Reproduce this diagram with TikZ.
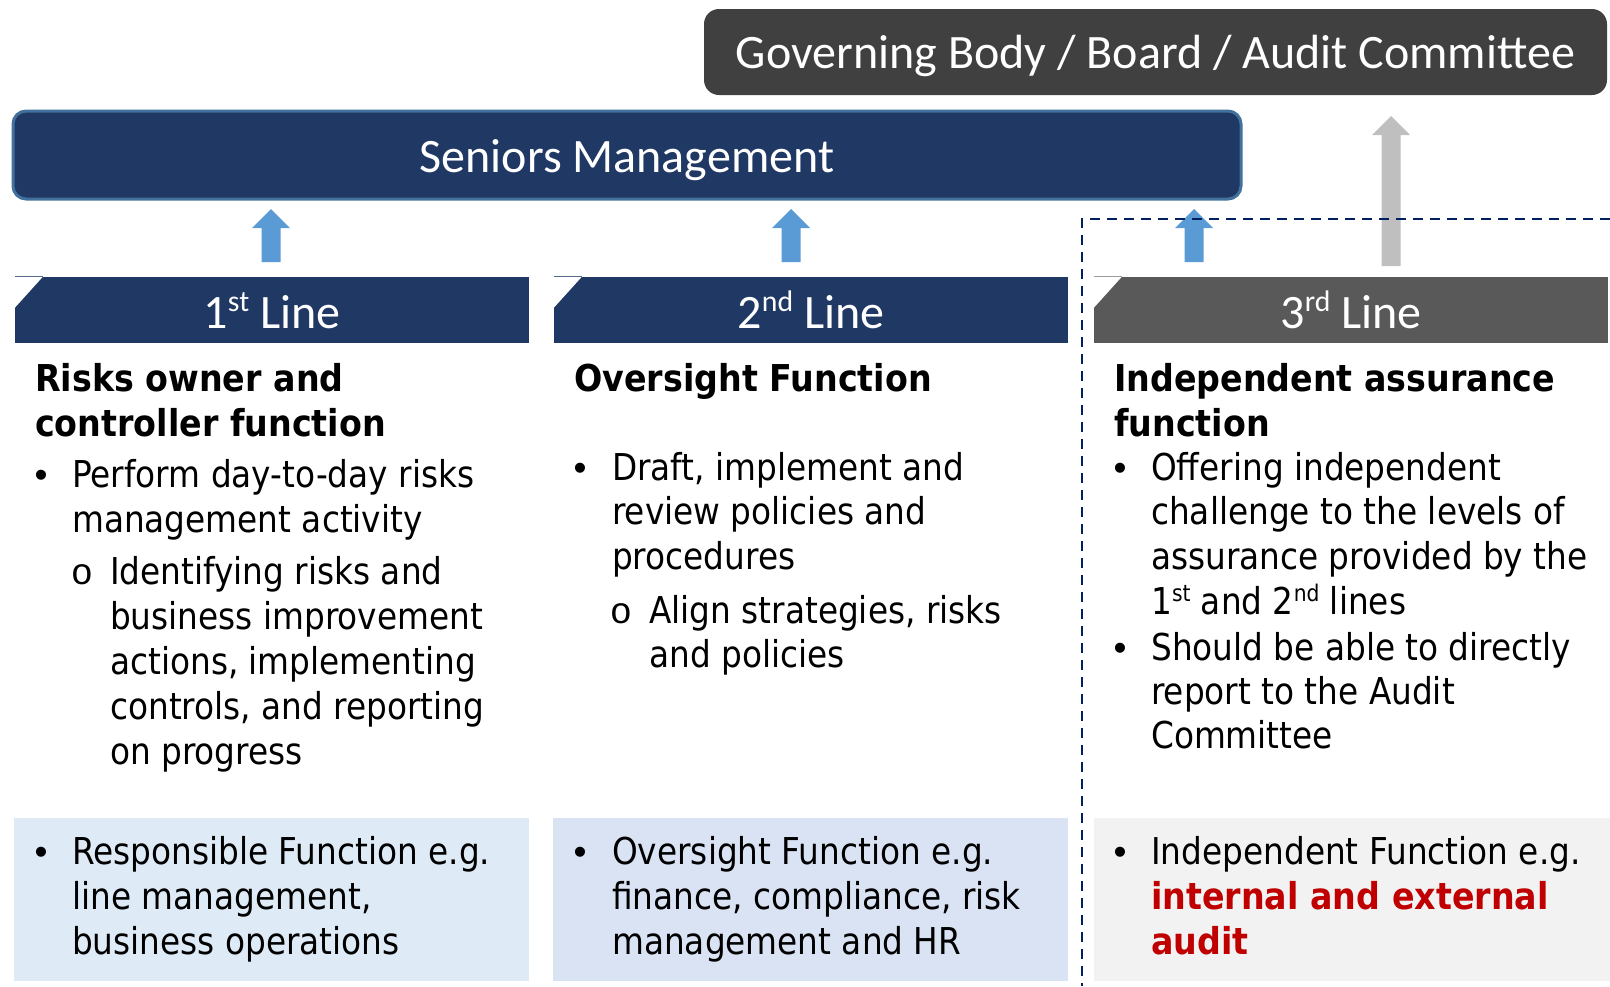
\documentclass[tikz,border=0pt]{standalone}
\usepackage{fontspec}
\setmainfont{DejaVu Sans}[FakeStretch=0.885, BoldFeatures={FakeStretch=0.9}]
\newfontfamily\hdfont{Carlito}
\newfontfamily\subfont{Liberation Mono}
\newfontfamily\bulfont{Liberation Sans}
\usetikzlibrary{calc}

\definecolor{navy}{HTML}{203864}
\definecolor{navyedge}{HTML}{41719C}
\definecolor{boardgray}{HTML}{404040}
\definecolor{thirdgray}{HTML}{595959}
\definecolor{arrowblue}{HTML}{5B9BD5}
\definecolor{arrowgray}{HTML}{BFBFBF}
\definecolor{boxone}{HTML}{DEEBF7}
\definecolor{boxtwo}{HTML}{DAE3F3}
\definecolor{boxthree}{HTML}{F2F2F2}
\definecolor{dashnavy}{HTML}{002060}
\definecolor{auditred}{HTML}{C00000}

\newcommand\bodysize{\fontsize{37}{45}\selectfont}
\newcommand\supx[1]{\raisebox{0.34em}{\scalebox{0.62}{#1}}}
% block arrow pointing up: #1 bottom coordinate, #2 tip coordinate, #3 colour
\newcommand\blockup[3]{%
  \fill[#3] let \p1=(#1), \p2=(#2) in
    (\x1-9.5pt,\y1) -- (\x1+9.5pt,\y1) -- (\x1+9.5pt,\y2-19pt) --
    (\x1+19pt,\y2-19pt) -- (\x2,\y2) -- (\x1-19pt,\y2-19pt) --
    (\x1-9.5pt,\y2-19pt) -- cycle;}

\begin{document}
\begin{tikzpicture}[x=1pt,y=-1pt,
  hdrbox/.style={inner sep=0, minimum width=514, minimum height=66,
    text=white, font=\hdfont\fontsize{48}{56}\selectfont,
    text height=36, text depth=0},
  fnbox/.style={inner sep=0, minimum width=515, minimum height=163},
  txt/.style={anchor=base west, inner sep=0, font=\bodysize},
  txtb/.style={anchor=base west, inner sep=0, font=\bodysize\bfseries},
  bul/.style={anchor=base, inner sep=0, font=\bulfont\bodysize},
  subbul/.style={anchor=base, inner sep=0, font=\subfont\bodysize},
  dashline/.style={draw=dashnavy, line width=2.5, dash pattern=on 10pt off 7pt}]
\useasboundingbox (0,0) rectangle (1610,986);

% governing body and senior management
\node[fill=boardgray, rounded corners=15, minimum width=903, minimum height=86,
  inner sep=0, text=white, font=\hdfont\fontsize{48}{56}\selectfont,
  text height=33, text depth=0] (gov) at (1155.5,52) {Governing Body / Board / Audit Committee};
\node[fill=navy, draw=navyedge, line width=3, rounded corners=13,
  minimum width=1228, minimum height=88, inner sep=0, text=white,
  font=\hdfont\fontsize{48}{56}\selectfont, text height=35, text depth=0]
  (sm) at (627,155) {Seniors Management};

% bottom function boxes
\node[fnbox, fill=boxone] (b1) at (271.5,899.5) {};
\node[fnbox, fill=boxtwo] (b2) at (810.5,899.5) {};
\node[fnbox, fill=boxthree, minimum width=516] (b3) at (1352,899.5) {};

% line headers with snipped corner
\node[hdrbox, fill=navy] (h1) at (272,310) {1\supx{st} Line};
\node[hdrbox, fill=navy] (h2) at (811,310) {2\supx{nd} Line};
\node[hdrbox, fill=thirdgray] (h3) at (1351,310) {3\supx{rd} Line};
\foreach \h/\c in {h1/navy!75, h2/navy!75, h3/thirdgray!60}{
  \fill[white] (\h.north west) -- ++(28,0) -- ++(-28,31) -- cycle;
  \draw[\c, line width=1] (\h.north west) -- ++(28,0);
}

% reporting arrows
\coordinate (a1b) at (271,262);  \coordinate (a1t) at (271,209);
\coordinate (a2b) at (791,262);  \coordinate (a2t) at (791,209);
\coordinate (a3b) at (1194,262); \coordinate (a3t) at (1194,209);
\coordinate (a4b) at (1391,266); \coordinate (a4t) at (1391,116);
\blockup{a1b}{a1t}{arrowblue}
\blockup{a2b}{a2t}{arrowblue}
\blockup{a3b}{a3t}{arrowblue}
\blockup{a4b}{a4t}{arrowgray}

% independence boundary of the third line
\coordinate (dA) at (1610,219);
\coordinate (dB) at (1082,219);
\coordinate (dC) at (1082,986);
\draw[dashline] (dA) -- (dB) -- (dC);

% first line
\node[txtb] (c1t1) at (35,391) {Risks owner and};
\node[txtb] (c1t2) at (35,436) {controller function};
\node[bul] (c1p0) at (41,487) {•};
\node[txt] (c1p1) at (72,487) {Perform day-to-day risks};
\node[txt] (c1p2) at (72,532) {management activity};
\node[subbul] (c1s0) at (82,584) {o};
\node[txt] (c1s1) at (110,584) {Identifying risks and};
\node[txt] (c1s2) at (110,629) {business improvement};
\node[txt] (c1s3) at (110,674) {actions, implementing};
\node[txt] (c1s4) at (110,719) {controls, and reporting};
\node[txt] (c1s5) at (110,764) {on progress};

% second line
\node[txtb] (c2t1) at (574,391) {Oversight Function};
\node[bul] (c2p0) at (580,480) {•};
\node[txt] (c2p1) at (612,480) {Draft, implement and};
\node[txt] (c2p2) at (612,524) {review policies and};
\node[txt] (c2p3) at (612,569) {procedures};
\node[subbul] (c2s0) at (621,623) {o};
\node[txt] (c2s1) at (649,623) {Align strategies, risks};
\node[txt] (c2s2) at (649,667) {and policies};

% third line
\node[txtb] (c3t1) at (1114,391) {Independent assurance};
\node[txtb] (c3t2) at (1114,436) {function};
\node[bul] (c3p0) at (1120,480) {•};
\node[txt] (c3p1) at (1151,480) {Offering independent};
\node[txt] (c3p2) at (1151,524) {challenge to the levels of};
\node[txt] (c3p3) at (1151,569) {assurance provided by the};
\node[txt] (c3p4) at (1151,614) {1\supx{st} and 2\supx{nd} lines};
\node[bul] (c3q0) at (1120,660) {•};
\node[txt] (c3q1) at (1151,660) {Should be able to directly};
\node[txt] (c3q2) at (1151,704) {report to the Audit};
\node[txt] (c3q3) at (1151,748) {Committee};

% function examples
\node[bul] (b1p0) at (41,864) {•};
\node[txt] (b1p1) at (72,864) {Responsible Function e.g.};
\node[txt] (b1p2) at (72,909) {line management,};
\node[txt] (b1p3) at (72,954) {business operations};
\node[bul] (b2p0) at (580,864) {•};
\node[txt] (b2p1) at (612,864) {Oversight Function e.g.};
\node[txt] (b2p2) at (612,909) {finance, compliance, risk};
\node[txt] (b2p3) at (612,954) {management and HR};
\node[bul] (b3p0) at (1120,864) {•};
\node[txt] (b3p1) at (1151,864) {Independent Function e.g.};
\node[txtb, text=auditred] (b3p2) at (1151,909) {internal and external};
\node[txtb, text=auditred] (b3p3) at (1151,954) {audit};
\end{tikzpicture}
\end{document}
